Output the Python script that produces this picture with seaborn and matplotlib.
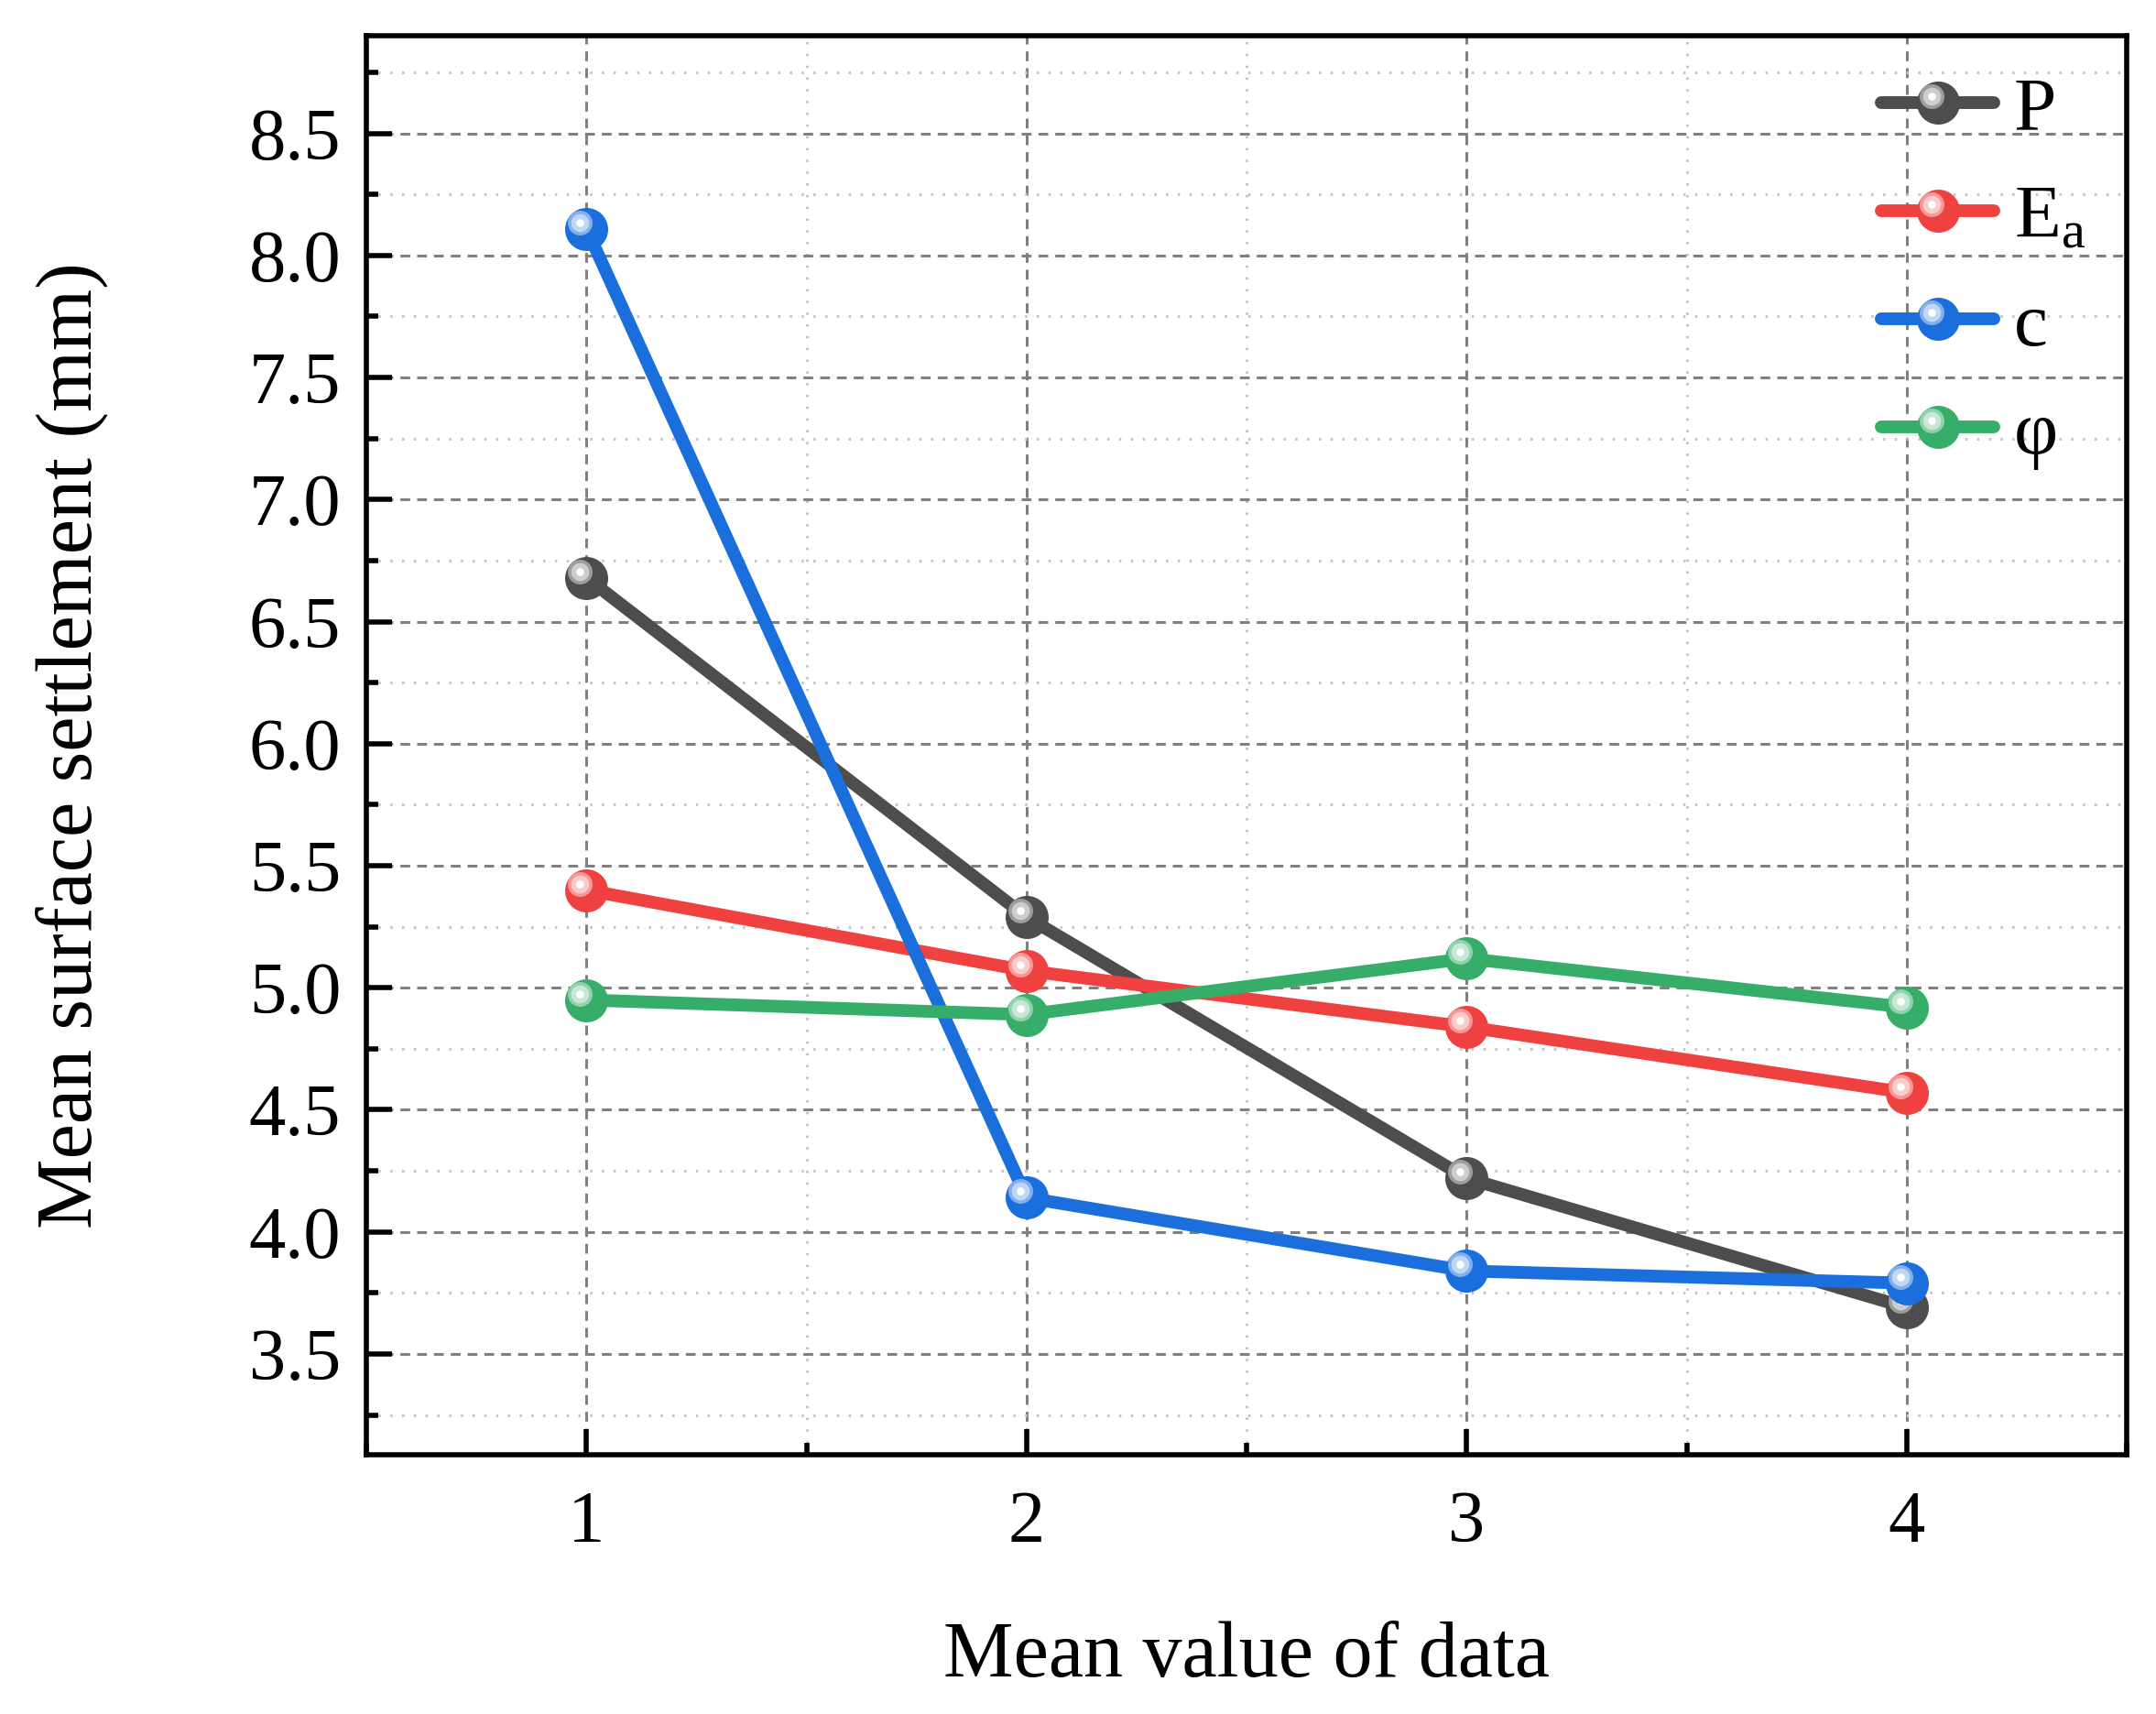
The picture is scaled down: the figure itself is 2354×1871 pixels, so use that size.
import numpy as np
import pandas as pd
import matplotlib
matplotlib.use("Agg")
import matplotlib.pyplot as plt
import seaborn as sns
from matplotlib.path import Path
from matplotlib.markers import MarkerStyle
from matplotlib.ticker import MultipleLocator, FormatStrFormatter
from matplotlib.legend_handler import HandlerTuple
from matplotlib.colors import to_rgb

# ---------------- data ----------------
x_levels = [1, 2, 3, 4]
series_names = ["P", "E$_\\mathrm{a}$", "c", "φ"]
P_vals = [6.68, 5.29, 4.22, 3.69]
Ea_vals = [5.40, 5.07, 4.84, 4.57]
c_vals = [8.11, 4.14, 3.84, 3.79]
phi_vals = [4.95, 4.89, 5.12, 4.92]
series_colors = ["#4D4D4D", "#F04141", "#1A6FDD", "#36AE6A"]
x_label = "Mean value of data"
y_label = "Mean surface settlement (mm)"

df = pd.DataFrame({
    "x": x_levels * 4,
    "y": P_vals + Ea_vals + c_vals + phi_vals,
    "param": sum([[n] * 4 for n in series_names], []),
})

# ---------------- style ----------------
sns.set_theme(style="ticks")
plt.rcParams["font.family"] = ["Liberation Serif", "DejaVu Serif"]
plt.rcParams["mathtext.fontset"] = "custom"
plt.rcParams["mathtext.rm"] = "Liberation Serif"
plt.rcParams["mathtext.it"] = "Liberation Serif:italic"
plt.rcParams["text.color"] = "black"
plt.rcParams["axes.labelcolor"] = "black"
plt.rcParams["xtick.color"] = "black"
plt.rcParams["ytick.color"] = "black"

DPI = 200
fig = plt.figure(figsize=(2354 / DPI, 1871 / DPI), dpi=DPI)
ax = fig.add_axes([400 / 2354, 1 - 1588 / 1871, (2322 - 400) / 2354, (1588 - 39) / 1871])

PX = 72.0 / DPI  # points per pixel


def mix_white(c, f):
    r = np.array(to_rgb(c))
    return tuple(r + (1 - r) * f)


def ring_marker(dx, dy, r):
    circ = Path.unit_circle()
    verts = circ.vertices * r + np.array([dx, dy])
    path = Path(verts, circ.codes)
    rescale = np.max(np.abs(verts))
    return MarkerStyle(path), 2 * rescale * PX


main_ms = 47 * PX
rings = [(13.5, 0.45), (9.8, 0.72), (4.3, 1.0)]
legend_handles = []
for i, (name, col) in enumerate(zip(series_names, series_colors)):
    sub = df[df["param"] == name]
    z = 3 + i
    sns.lineplot(data=sub, x="x", y="y", color=col, marker="o", markersize=main_ms,
                 markeredgewidth=0, linewidth=5.0, ax=ax, legend=False, zorder=z,
                 solid_capstyle="round", errorbar=None)
    main_line = ax.lines[-1]
    hl = [main_line]
    for k, (r, f) in enumerate(rings):
        m, ms = ring_marker(-7, 7, r)
        ln, = ax.plot(sub["x"], sub["y"], ls="none", marker=m, markersize=ms,
                      markerfacecolor=mix_white(col, f), markeredgewidth=0,
                      zorder=z + 0.1 + 0.1 * k)
        hl.append(ln)
    legend_handles.append(tuple(hl))

# ---------------- axes ----------------
ax.set_xlim(0.5, 4.5)
ax.set_ylim(3.087, 8.90)
ax.xaxis.set_major_locator(MultipleLocator(1))
ax.xaxis.set_minor_locator(MultipleLocator(0.5))
ax.yaxis.set_major_locator(MultipleLocator(0.5))
ax.yaxis.set_minor_locator(MultipleLocator(0.25))
ax.yaxis.set_major_formatter(FormatStrFormatter("%.1f"))

ax.grid(which="major", color="#808080", linewidth=1.1, linestyle=(0, (3.5, 2.5)), zorder=0)
ax.grid(which="minor", color="#C4C4C4", linewidth=1.1, linestyle=(0, (0.8, 3.4)), zorder=0)
ax.set_axisbelow(True)

for s in ax.spines.values():
    s.set_linewidth(2.0)
    s.set_color("black")

ax.tick_params(which="both", direction="in", top=False, right=False, colors="black",
               width=2.0)
ax.tick_params(which="major", length=10, labelsize=29, pad=10)
ax.tick_params(axis="x", which="major", pad=14)
ax.tick_params(which="minor", length=4.7)

ax.set_xlabel(x_label, fontsize=31, labelpad=25)
ax.set_ylabel(y_label, fontsize=31, labelpad=55)

leg = ax.legend(legend_handles, series_names,
                handler_map={tuple: HandlerTuple(ndivide=1, pad=0)},
                loc="upper left", bbox_to_anchor=(2054 / 2354, 1 - 83 / 1871),
                bbox_transform=fig.transFigure, frameon=False, fontsize=30,
                handlelength=1.48, handletextpad=0.26, labelspacing=0.5,
                borderpad=0, borderaxespad=0)
for t in leg.get_texts():
    t.set_color("black")

fig.savefig("out.png", dpi=DPI, facecolor="white")
